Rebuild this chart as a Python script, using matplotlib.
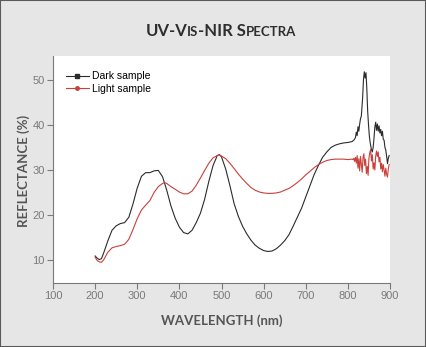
import numpy as np
import matplotlib
matplotlib.use("Agg")
import matplotlib.pyplot as plt
from matplotlib.offsetbox import TextArea, HPacker, AnchoredOffsetbox
from matplotlib.patches import Rectangle

# wavelength (nm) and reflectance (%)
dark_nm = [200, 205, 210, 215, 220, 230, 240, 250, 260, 270, 280, 290, 300, 310,
           320, 330, 340, 350, 360, 370, 380, 390, 400, 410, 420, 430, 440, 450,
           460, 470, 480, 490, 495, 500, 510, 520, 530, 540, 550, 560, 570, 580,
           590, 600, 610, 620, 630, 640, 650, 660, 670, 680, 690, 700, 710, 720,
           730, 740, 750, 760, 770, 780, 790, 800, 810, 815, 818, 820, 822, 824,
           826, 828, 830, 832, 835, 837, 839, 841, 843, 845, 847, 849, 851, 853,
           856, 858, 860, 862, 864, 866, 868, 870, 872, 874, 876, 878, 880, 882,
           884, 886, 888, 890, 892, 894, 896, 898]
dark_refl = [10.9, 10.4, 10.1, 10.3, 11.5, 14.2, 16.6, 17.6, 18.1, 18.3, 19.5,
             22.5, 26.0, 28.6, 29.4, 29.4, 29.8, 29.9, 28.5, 25.5, 22.0, 19.3,
             17.3, 16.1, 15.8, 16.6, 18.3, 20.4, 23.5, 27.5, 31.0, 33.2, 33.4,
             32.9, 30.2, 26.5, 22.5, 19.7, 17.5, 15.8, 14.4, 13.3, 12.6, 12.1,
             11.9, 12.0, 12.5, 13.3, 14.3, 15.6, 17.5, 19.5, 21.5, 24.0, 26.5,
             29.0, 31.0, 32.8, 34.0, 35.0, 35.5, 35.8, 36.0, 36.1, 36.3, 36.7,
             37.2, 38.4, 37.6, 39.6, 38.6, 40.2, 41.4, 42.0, 46.0, 50.0, 51.8,
             50.4, 51.6, 48.0, 43.0, 40.0, 37.5, 36.0, 34.5, 34.0, 35.0, 37.0,
             39.5, 40.6, 38.8, 40.2, 38.6, 39.8, 38.2, 39.0, 37.6, 38.6, 36.8,
             36.6, 35.0, 34.4, 33.0, 31.4, 32.6, 33.2]

light_nm = [200, 205, 210, 215, 220, 230, 240, 250, 260, 270, 280, 290, 300, 310,
            320, 330, 340, 350, 360, 365, 370, 380, 390, 400, 410, 420, 430, 440,
            450, 460, 470, 480, 490, 495, 500, 510, 520, 530, 540, 550, 560, 570,
            580, 590, 600, 610, 620, 630, 640, 650, 660, 670, 680, 690, 700, 710,
            720, 730, 740, 750, 760, 770, 780, 790, 800, 810, 812, 814, 816, 818,
            820, 822, 824, 826, 828, 830, 832, 834, 836, 838, 840, 842, 844, 846,
            848, 850, 852, 854, 856, 858, 860, 862, 864, 866, 868, 870, 872, 874,
            876, 878, 880, 882, 884, 886, 888, 890, 892, 894, 896, 898]
light_refl = [10.6, 9.9, 9.6, 9.5, 10.0, 11.7, 12.7, 13.0, 13.2, 13.5, 14.6,
              16.8, 19.2, 21.1, 22.2, 23.2, 25.0, 26.3, 27.0, 27.2, 27.0, 26.3,
              25.7, 25.1, 24.7, 24.7, 25.3, 26.6, 28.2, 29.9, 31.5, 32.7, 33.2,
              33.3, 33.1, 32.5, 31.5, 30.3, 29.1, 28.0, 27.0, 26.1, 25.5, 25.1,
              24.9, 24.8, 24.8, 24.9, 25.1, 25.5, 25.9, 26.5, 27.2, 28.0, 28.9,
              29.7, 30.5, 31.2, 31.7, 32.1, 32.3, 32.4, 32.4, 32.4, 32.3, 32.4,
              32.3, 32.6, 31.9, 32.8, 31.5, 33.2, 30.4, 32.5, 29.8, 33.0, 31.2,
              29.5, 32.8, 33.6, 31.0, 32.4, 29.2, 30.8, 28.8, 32.6, 33.8, 34.5,
              32.0, 33.4, 30.2, 31.6, 30.0, 33.0, 34.2, 33.0, 34.0, 31.8, 32.8,
              30.2, 31.5, 29.6, 31.2, 30.0, 28.6, 30.4, 29.0, 28.4, 30.2, 31.2]

x_ticks = [100, 200, 300, 400, 500, 600, 700, 800, 900]
y_ticks = [10, 20, 30, 40, 50]

BG = "#e6e6e6"
GREY = "#7a7a7a"
LABEL = "#555555"

fig = plt.figure(figsize=(4.26, 3.47), dpi=100, facecolor=BG)
ax = fig.add_axes([53 / 426, 1 - 283 / 347, 337 / 426, 227 / 347])
ax.set_facecolor("white")

ax.plot(dark_nm, dark_refl, color="#2b2b2b", lw=0.8, label="Dark sample")
ax.plot(light_nm, light_refl, color="#c9413b", lw=0.8, label="Light sample")

ax.set_xlim(100, 898)
ax.set_ylim(4.9, 55.3)
ax.set_xticks(x_ticks)
ax.set_yticks(y_ticks)

for s in ["top", "right"]:
    ax.spines[s].set_visible(False)
for s in ["left", "bottom"]:
    ax.spines[s].set_color(GREY)
    ax.spines[s].set_linewidth(0.8)
ax.tick_params(direction="out", length=4, width=0.8, color=GREY,
               labelcolor=GREY, labelsize=8, pad=2)
for lab in ax.get_xticklabels() + ax.get_yticklabels():
    lab.set_fontfamily("Liberation Sans")

# legend: short line with marker in the middle
h1 = plt.Line2D([], [], color="#2b2b2b", lw=0.8, marker="s", markersize=2.5)
h2 = plt.Line2D([], [], color="#c9413b", lw=0.8, marker="o", markersize=2.5)
leg = ax.legend([h1, h2], ["Dark sample", "Light sample"], loc="upper left",
                bbox_to_anchor=(0.02, 0.96), frameon=False, handlelength=2.2,
                handletextpad=0.3, labelspacing=0.25, borderaxespad=0.2,
                prop={"family": "Liberation Sans", "size": 7.5})

fig.text(24 / 426, 1 - 171 / 347, "REFLECTANCE (%)", rotation=90, ha="center",
         va="center", fontsize=9.5, fontweight="bold", color=LABEL,
         family="Lato")
fig.text(222 / 426, 1 - 321 / 347, "WAVELENGTH (nm)", ha="center",
         va="center", fontsize=9.5, fontweight="bold", color=LABEL,
         family="Lato")

# title in small caps
big = dict(fontsize=12, fontweight="bold", color="#2e2e2e", family="Lato")
small = dict(fontsize=9.5, fontweight="bold", color="#2e2e2e", family="Lato")
parts = [("UV-V", big), ("IS", small), ("-NIR S", big), ("PECTRA", small)]
boxes = [TextArea(t, textprops=p) for t, p in parts]
pack = HPacker(children=boxes, align="baseline", pad=0, sep=0)
title = AnchoredOffsetbox(loc="center", child=pack, frameon=False,
                          bbox_to_anchor=(221 / 426, 1 - 31 / 347),
                          bbox_transform=fig.transFigure, borderpad=0, pad=0)
fig.add_artist(title)

fig.add_artist(Rectangle((0, 0), 1, 1, transform=fig.transFigure, fill=False,
                         edgecolor="#5a5a5a", lw=1.5))

fig.savefig("out.png", dpi=100, facecolor=BG)
